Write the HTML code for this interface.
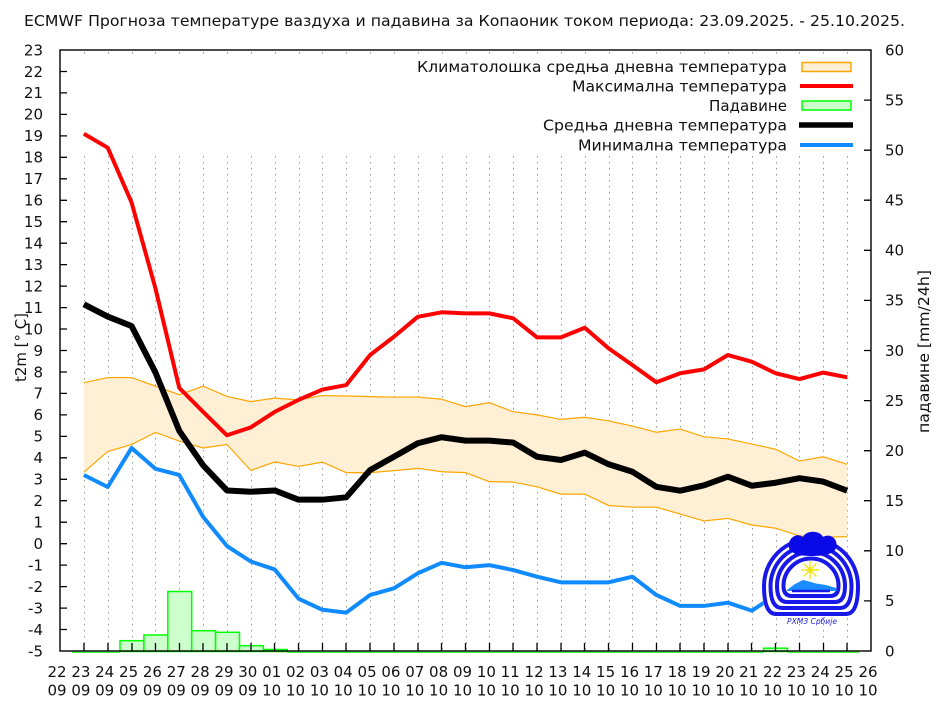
<!DOCTYPE html>
<html>
<head>
<meta charset="utf-8">
<style>
html,body{margin:0;padding:0;background:#fff;}
svg{display:block;}
text{font-family:"DejaVu Sans","Liberation Sans",sans-serif;font-size:15px;fill:#111;}
.xl text{text-anchor:middle;}
.yl text{text-anchor:end;}
</style>
</head>
<body>
<svg width="949" height="708" viewBox="0 0 949 708" xmlns="http://www.w3.org/2000/svg">
<rect x="0" y="0" width="949" height="708" fill="#fff"/>

<!-- Title -->
<text x="24" y="26" textLength="881" lengthAdjust="spacingAndGlyphs">ECMWF Прогноза температуре ваздуха и падавина за Копаоник током периода: 23.09.2025. - 25.10.2025.</text>

<!-- Grid -->
<g stroke="#9a9a9a" stroke-width="1" fill="none">
<path d="M84.5,52V56 M108.5,52V56 M132.5,52V56 M155.5,52V56 M179.5,52V56 M203.5,52V56 M227.5,52V56 M251.5,52V56 M275.5,52V56 M299.5,52V56 M322.5,52V56 M346.5,52V56 M370.5,52V56 M394.5,52V56 M418.5,52V56 M442.5,52V56 M466.5,52V56 M489.5,52V56 M513.5,52V56 M537.5,52V56 M561.5,52V56 M585.5,52V56 M609.5,52V56 M632.5,52V56 M656.5,52V56 M680.5,52V56 M704.5,52V56 M728.5,52V56 M752.5,52V56 M776.5,52V56 M799.5,52V56 M823.5,52V56 M847.5,52V56" stroke-dasharray="1.5,4.5"/>
<path d="M84.5,156V651 M108.5,156V651 M132.5,156V651 M155.5,156V651 M179.5,156V651 M203.5,156V651 M227.5,156V651 M251.5,156V651 M275.5,156V651 M299.5,156V651 M322.5,156V651 M346.5,156V651 M370.5,156V651 M394.5,156V651 M418.5,156V651 M442.5,156V651 M466.5,156V651 M489.5,156V651 M513.5,156V651 M537.5,156V651 M561.5,156V651 M585.5,156V651 M609.5,156V651 M632.5,156V651 M656.5,156V651 M680.5,156V651 M704.5,156V651 M728.5,156V651 M752.5,156V651 M776.5,156V651 M799.5,156V651 M823.5,156V651 M847.5,156V651" stroke-dasharray="1.5,4.5"/>
</g>

<!-- Data group: x = day index, y = temperature -->
<g transform="matrix(23.853 0 0 -21.464 60 543.68)">
  <polygon fill="#ffefd5" stroke="none" points="1,7.5 2,7.74 3,7.74 4,7.34 5,6.94 6,7.34 7,6.86 8,6.62 9,6.78 10,6.7 11,6.9 12,6.88 13,6.85 14,6.83 15,6.83 16,6.73 17,6.38 18,6.57 19,6.15 20,6.0 21,5.79 22,5.89 23,5.72 24,5.48 25,5.19 26,5.34 27,4.98 28,4.88 29,4.64 30,4.4 31,3.85 32,4.05 33,3.7 33,0.33 32,0.3 31,0.36 30,0.72 29,0.87 28,1.18 27,1.06 26,1.38 25,1.7 24,1.7 23,1.78 22,2.31 21,2.31 20,2.65 19,2.87 18,2.89 17,3.31 16,3.35 15,3.51 14,3.4 13,3.31 12,3.31 11,3.8 10,3.6 9,3.81 8,3.41 7,4.62 6,4.46 5,4.78 4,5.18 3,4.62 2,4.29 1,3.33"/>
  <polyline fill="none" stroke="#ffa500" stroke-width="1.2" vector-effect="non-scaling-stroke" points="1,7.5 2,7.74 3,7.74 4,7.34 5,6.94 6,7.34 7,6.86 8,6.62 9,6.78 10,6.7 11,6.9 12,6.88 13,6.85 14,6.83 15,6.83 16,6.73 17,6.38 18,6.57 19,6.15 20,6.0 21,5.79 22,5.89 23,5.72 24,5.48 25,5.19 26,5.34 27,4.98 28,4.88 29,4.64 30,4.4 31,3.85 32,4.05 33,3.7"/>
  <polyline fill="none" stroke="#ffa500" stroke-width="1.2" vector-effect="non-scaling-stroke" points="1,3.33 2,4.29 3,4.62 4,5.18 5,4.78 6,4.46 7,4.62 8,3.41 9,3.81 10,3.6 11,3.8 12,3.31 13,3.31 14,3.4 15,3.51 16,3.35 17,3.31 18,2.89 19,2.87 20,2.65 21,2.31 22,2.31 23,1.78 24,1.7 25,1.7 26,1.38 27,1.06 28,1.18 29,0.87 30,0.72 31,0.36 32,0.3 33,0.33"/>
  <polyline fill="none" stroke="#ff0000" stroke-width="4" stroke-linejoin="round" vector-effect="non-scaling-stroke" points="1,19.1 2,18.45 3,15.9 4,11.9 5,7.26 6,6.14 7,5.05 8,5.42 9,6.14 10,6.7 11,7.18 12,7.39 13,8.79 14,9.64 15,10.57 16,10.78 17,10.73 18,10.73 19,10.5 20,9.61 21,9.61 22,10.06 23,9.1 24,8.32 25,7.52 26,7.94 27,8.12 28,8.79 29,8.48 30,7.94 31,7.67 32,7.97 33,7.75"/>
</g>

<!-- Precipitation bars -->
<path d="M72,652.3H120 M287,652.3H763.6 M787.5,652.3H859.5" stroke="#00ff00" stroke-width="1" fill="none"/>
<g fill="#ccffcc" stroke="#00ff00" stroke-width="1.5">
  <rect x="120" y="640.7" width="23.9" height="10.8"/>
  <rect x="143.9" y="635" width="23.9" height="16.5"/>
  <rect x="167.8" y="591.5" width="23.9" height="60"/>
  <rect x="191.7" y="630.7" width="23.9" height="20.8"/>
  <rect x="215.6" y="632.3" width="23.9" height="19.2"/>
  <rect x="239.5" y="645.7" width="23.9" height="5.8"/>
  <rect x="263.4" y="649.5" width="23.9" height="2"/>
  <rect x="763.6" y="648.2" width="23.9" height="3.3"/>
</g>

<g transform="matrix(23.853 0 0 -21.464 60 543.68)">
  <polyline fill="none" stroke="#000" stroke-width="6" stroke-linejoin="round" vector-effect="non-scaling-stroke" points="1,11.15 2,10.58 3,10.14 4,7.98 5,5.26 6,3.65 7,2.48 8,2.42 9,2.48 10,2.05 11,2.05 12,2.16 13,3.43 14,4.05 15,4.68 16,4.96 17,4.8 18,4.8 19,4.71 20,4.05 21,3.9 22,4.24 23,3.7 24,3.35 25,2.65 26,2.47 27,2.72 28,3.12 29,2.7 30,2.84 31,3.05 32,2.89 33,2.47"/>
  <polyline fill="none" stroke="#108aff" stroke-width="4" stroke-linejoin="round" vector-effect="non-scaling-stroke" points="1,3.2 2,2.64 3,4.46 4,3.49 5,3.2 6,1.25 7,-0.11 8,-0.83 9,-1.2 10,-2.56 11,-3.08 12,-3.21 13,-2.39 14,-2.08 15,-1.38 16,-0.89 17,-1.1 18,-1.0 19,-1.23 20,-1.54 21,-1.8 22,-1.8 23,-1.8 24,-1.54 25,-2.39 26,-2.9 27,-2.9 28,-2.75 29,-3.12 30,-2.4 31,-1.9 32,-2.0 33,-2.2"/>
</g>

<!-- Logo -->
<g>
  <path d="M762,586 A49,49 0 0 1 860,586 Q860,617 847,617 L775,617 Q762,617 762,586 Z" fill="#fff"/>
  <g fill="none" stroke="#1818e8" stroke-width="4">
    <path d="M764,586 A47,47 0 0 1 858,586 Q858,614 846,614 L776,614 Q764,614 764,586 Z"/>
    <path d="M770.5,586 A40.5,40.5 0 0 1 851.5,586 Q851.5,608 840,608 L782,608 Q770.5,608 770.5,586 Z"/>
    <path d="M777,586 A34,34 0 0 1 845,586 Q845,602 835,602 L787,602 Q777,602 777,586 Z"/>
    <path d="M783.5,586 A27.5,27.5 0 0 1 838.5,586 Q838.5,596 830,596 L792,596 Q783.5,596 783.5,586 Z"/>
  </g>
  <polygon points="787,590 795,584 803,580 809,581.5 816,583.5 826,585 836,588 837,591 787,591" fill="#1a8cff"/>
  <path d="M792,591H830" stroke="#1818e8" stroke-width="2.5"/>
  <g stroke="#f2e61a" stroke-width="1.4">
    <path d="M810,561V579 M801,570H819 M803.6,563.6L816.4,576.4 M816.4,563.6L803.6,576.4"/>
  </g>
  <circle cx="810" cy="570" r="3" fill="#f2e61a"/>
  <path d="M789,548 C787,538 797,532 803,537 C806,530 820,530 823,537 C829,533 839,538 836,548 C834,554 824,556 812,556 C800,556 791,554 789,548 Z" fill="#0a0ae6"/>
  <text x="812" y="624" text-anchor="middle" textLength="50" lengthAdjust="spacingAndGlyphs" style="font-size:7.5px;font-style:italic;fill:#2424e0">РХМЗ Србије</text>
</g>

<!-- Legend -->
<text x="417" y="72.2" textLength="370" lengthAdjust="spacingAndGlyphs">Климатолошка средња дневна температура</text>
<text x="572" y="91.5" textLength="215" lengthAdjust="spacingAndGlyphs">Максимална температура</text>
<text x="709" y="111.2" textLength="78" lengthAdjust="spacingAndGlyphs">Падавине</text>
<text x="543" y="130.5" textLength="244" lengthAdjust="spacingAndGlyphs">Средња дневна температура</text>
<text x="578" y="150.5" textLength="209" lengthAdjust="spacingAndGlyphs">Минимална температура</text>
<rect x="802" y="62.5" width="49" height="9" fill="#ffefd5" stroke="#ffa500" stroke-width="1.5"/>
<path d="M800,86H853" stroke="#ff0000" stroke-width="4"/>
<rect x="802" y="101" width="49" height="9" fill="#ccffcc" stroke="#00ff00" stroke-width="1.5"/>
<path d="M799,125H853" stroke="#000" stroke-width="5.5"/>
<path d="M800,145H853" stroke="#108aff" stroke-width="4"/>

<!-- Border and ticks -->
<rect x="60" y="50" width="811" height="601" fill="none" stroke="#000" stroke-width="1.4"/>
<path fill="none" stroke="#000" stroke-width="1.3" d="M60,71.5H67 M60,92.9H67 M60,114.4H67 M60,135.9H67 M60,157.3H67 M60,178.8H67 M60,200.3H67 M60,221.7H67 M60,243.2H67 M60,264.6H67 M60,286.1H67 M60,307.6H67 M60,329H67 M60,350.5H67 M60,372H67 M60,393.4H67 M60,414.9H67 M60,436.4H67 M60,457.8H67 M60,479.3H67 M60,500.7H67 M60,522.2H67 M60,543.7H67 M60,565.1H67 M60,586.6H67 M60,608.1H67 M60,629.5H67
M871,100.1H864 M871,150.2H864 M871,200.2H864 M871,250.3H864 M871,300.4H864 M871,350.5H864 M871,400.6H864 M871,450.7H864 M871,500.7H864 M871,550.8H864 M871,600.9H864
M84,651V643 M108,651V643 M132,651V643 M155.5,651V643 M179.5,651V643 M203,651V643 M227,651V643 M251,651V643 M274.5,651V643 M298.5,651V643 M322.5,651V643 M346,651V643 M370,651V643 M394,651V643 M418,651V643 M441.5,651V643 M465.5,651V643 M489.5,651V643 M513,651V643 M537,651V643 M561,651V643 M584.5,651V643 M608.5,651V643 M632.5,651V643 M656.5,651V643 M680,651V643 M704,651V643 M728,651V643 M751.5,651V643 M775.5,651V643 M799.5,651V643 M823.5,651V643 M847,651V643"/>

<!-- Left tick labels -->
<g class="yl">
<text x="43" y="55.3">23</text><text x="43" y="76.8">22</text><text x="43" y="98.2">21</text><text x="43" y="119.7">20</text><text x="43" y="141.2">19</text><text x="43" y="162.6">18</text><text x="43" y="184.1">17</text><text x="43" y="205.6">16</text><text x="43" y="227">15</text><text x="43" y="248.5">14</text><text x="43" y="269.9">13</text><text x="43" y="291.4">12</text><text x="43" y="312.9">11</text><text x="43" y="334.3">10</text><text x="43" y="355.8">9</text><text x="43" y="377.3">8</text><text x="43" y="398.7">7</text><text x="43" y="420.2">6</text><text x="43" y="441.7">5</text><text x="43" y="463.1">4</text><text x="43" y="484.6">3</text><text x="43" y="506">2</text><text x="43" y="527.5">1</text><text x="43" y="549">0</text><text x="43" y="570.4">-1</text><text x="43" y="591.9">-2</text><text x="43" y="613.4">-3</text><text x="43" y="634.8">-4</text><text x="43" y="656.3">-5</text>
</g>

<!-- Right tick labels -->
<g>
<text x="885" y="656.3">0</text><text x="885" y="606.2">5</text><text x="885" y="556.1">10</text><text x="885" y="506">15</text><text x="885" y="456">20</text><text x="885" y="405.9">25</text><text x="885" y="355.8">30</text><text x="885" y="305.7">35</text><text x="885" y="255.6">40</text><text x="885" y="205.5">45</text><text x="885" y="155.5">50</text><text x="885" y="105.4">55</text><text x="885" y="55.3">60</text>
</g>

<!-- X tick labels -->
<g class="xl">
<text x="57" y="677">22</text><text x="57" y="695.5">09</text>
<text x="80.9" y="677">23</text><text x="80.9" y="695.5">09</text>
<text x="104.7" y="677">24</text><text x="104.7" y="695.5">09</text>
<text x="128.6" y="677">25</text><text x="128.6" y="695.5">09</text>
<text x="152.4" y="677">26</text><text x="152.4" y="695.5">09</text>
<text x="176.3" y="677">27</text><text x="176.3" y="695.5">09</text>
<text x="200.1" y="677">28</text><text x="200.1" y="695.5">09</text>
<text x="224" y="677">29</text><text x="224" y="695.5">09</text>
<text x="247.8" y="677">30</text><text x="247.8" y="695.5">09</text>
<text x="271.7" y="677">01</text><text x="271.7" y="695.5">10</text>
<text x="295.5" y="677">02</text><text x="295.5" y="695.5">10</text>
<text x="319.4" y="677">03</text><text x="319.4" y="695.5">10</text>
<text x="343.2" y="677">04</text><text x="343.2" y="695.5">10</text>
<text x="367.1" y="677">05</text><text x="367.1" y="695.5">10</text>
<text x="390.9" y="677">06</text><text x="390.9" y="695.5">10</text>
<text x="414.8" y="677">07</text><text x="414.8" y="695.5">10</text>
<text x="438.6" y="677">08</text><text x="438.6" y="695.5">10</text>
<text x="462.5" y="677">09</text><text x="462.5" y="695.5">10</text>
<text x="486.4" y="677">10</text><text x="486.4" y="695.5">10</text>
<text x="510.2" y="677">11</text><text x="510.2" y="695.5">10</text>
<text x="534.1" y="677">12</text><text x="534.1" y="695.5">10</text>
<text x="557.9" y="677">13</text><text x="557.9" y="695.5">10</text>
<text x="581.8" y="677">14</text><text x="581.8" y="695.5">10</text>
<text x="605.6" y="677">15</text><text x="605.6" y="695.5">10</text>
<text x="629.5" y="677">16</text><text x="629.5" y="695.5">10</text>
<text x="653.3" y="677">17</text><text x="653.3" y="695.5">10</text>
<text x="677.2" y="677">18</text><text x="677.2" y="695.5">10</text>
<text x="701" y="677">19</text><text x="701" y="695.5">10</text>
<text x="724.9" y="677">20</text><text x="724.9" y="695.5">10</text>
<text x="748.7" y="677">21</text><text x="748.7" y="695.5">10</text>
<text x="772.6" y="677">22</text><text x="772.6" y="695.5">10</text>
<text x="796.4" y="677">23</text><text x="796.4" y="695.5">10</text>
<text x="820.3" y="677">24</text><text x="820.3" y="695.5">10</text>
<text x="844.1" y="677">25</text><text x="844.1" y="695.5">10</text>
<text x="868" y="677">26</text><text x="868" y="695.5">10</text>
</g>

<!-- Axis titles -->
<text transform="translate(26,347.5) rotate(-90)" text-anchor="middle" textLength="69" lengthAdjust="spacingAndGlyphs">t2m [° C]</text>
<text transform="translate(929,351.5) rotate(-90)" text-anchor="middle" textLength="163" lengthAdjust="spacingAndGlyphs">падавине [mm/24h]</text>
</svg>
</body>
</html>
